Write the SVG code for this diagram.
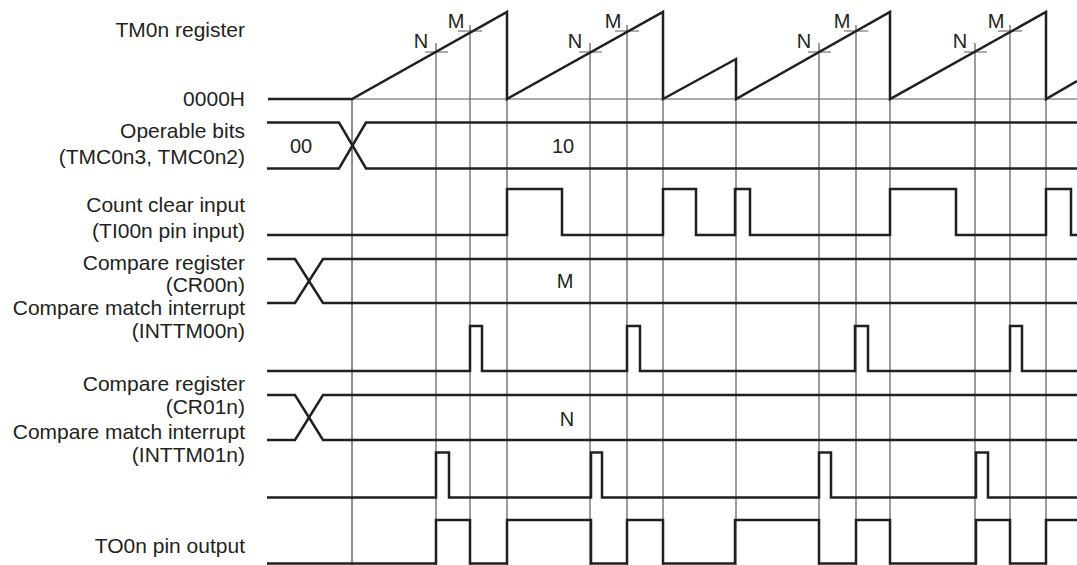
<svg xmlns="http://www.w3.org/2000/svg" width="1077" height="565" viewBox="0 0 1077 565">
<style>
.lbl{font-family:"Liberation Sans",Arial,sans-serif;font-size:21px;fill:#231f20;text-anchor:end}
.val{font-family:"Liberation Sans",Arial,sans-serif;font-size:20px;fill:#231f20;text-anchor:middle}
.sig{fill:none;stroke:#231f20;stroke-width:2.5;stroke-linejoin:miter}
.grid{stroke:#5a5a5a;stroke-width:1.2;fill:none}
.gridk{stroke:#231f20;stroke-width:1;fill:none}
.tick{stroke:#5a5a5a;stroke-width:1.2;fill:none}
</style>
<rect width="1077" height="565" fill="#fff"/>
<g id="connectors">
  <line class="grid" x1="328" y1="99" x2="1077" y2="99"/>
  <line class="gridk" x1="352" y1="99" x2="352" y2="565"/>
  <line class="grid" x1="507" y1="99" x2="507" y2="565"/>
  <line class="grid" x1="663" y1="99" x2="663" y2="565"/>
  <line class="grid" x1="736" y1="99" x2="736" y2="565"/>
  <line class="grid" x1="890" y1="99" x2="890" y2="565"/>
  <line class="grid" x1="1046" y1="99" x2="1046" y2="565"/>
  <path class="tick" d="M436,43 V565 M425,52 H448"/>
  <path class="tick" d="M590,43 V565 M579,52 H602"/>
  <path class="tick" d="M819,43 V565 M808,52 H831"/>
  <path class="tick" d="M975,43 V565 M964,52 H987"/>
  <path class="tick" d="M470,25 V565 M458,31 H482"/>
  <path class="tick" d="M627,25 V565 M615,31 H639"/>
  <path class="tick" d="M856,25 V565 M844,31 H868"/>
  <path class="tick" d="M1010,25 V565 M998,31 H1022"/>
</g>
<g id="tm0n">
  <text class="lbl" x="245" y="37">TM0n register</text>
  <text class="lbl" x="245" y="106">0000H</text>
  <path class="sig" d="M268,99 L352,99 L507,12 L507,99 L663,12 L663,99 L736,59 L736,99 L890,12 L890,99 L1046,12 L1046,99 L1077,81"/>
  <text class="val" x="421" y="48">N</text>
  <text class="val" x="456" y="28">M</text>
  <text class="val" x="575" y="48">N</text>
  <text class="val" x="613" y="28">M</text>
  <text class="val" x="804" y="48">N</text>
  <text class="val" x="842" y="28">M</text>
  <text class="val" x="960" y="48">N</text>
  <text class="val" x="996" y="28">M</text>
</g>
<g id="operable-bits">
  <text class="lbl" x="245" y="138">Operable bits</text>
  <text class="lbl" x="245" y="164">(TMC0n3, TMC0n2)</text>
  <path class="sig" d="M267,122.5 H339 L366,168.5 H1077"/>
  <path class="sig" d="M267,168.5 H339 L366,122.5 H1077"/>
  <text class="val" x="301" y="153">00</text>
  <text class="val" x="563" y="153">10</text>
</g>
<g id="count-clear">
  <text class="lbl" x="245" y="212">Count clear input</text>
  <text class="lbl" x="245" y="238">(TI00n pin input)</text>
  <path class="sig" d="M267,235 H507 V189 H562 V235 H663 V189 H696 V235 H735 V189 H750 V235 H890 V189 H956 V235 H1046 V189 H1071 V235 H1077"/>
</g>
<g id="cr00n">
  <text class="lbl" x="245" y="270">Compare register</text>
  <text class="lbl" x="245" y="292">(CR00n)</text>
  <path class="sig" d="M267,259 H295 L323,303 H1077"/>
  <path class="sig" d="M267,303 H295 L323,259 H1077"/>
  <text class="val" x="565" y="288">M</text>
</g>
<g id="inttm00n">
  <text class="lbl" x="245" y="315">Compare match interrupt</text>
  <text class="lbl" x="245" y="338">(INTTM00n)</text>
  <path class="sig" d="M267,371 H470 V326 H482 V371 H627 V326 H640 V371 H855 V326 H868 V371 H1010 V326 H1022 V371 H1077"/>
</g>
<g id="cr01n">
  <text class="lbl" x="245" y="391">Compare register</text>
  <text class="lbl" x="245" y="414">(CR01n)</text>
  <path class="sig" d="M267,395 H295 L323,440 H1077"/>
  <path class="sig" d="M267,440 H295 L323,395 H1077"/>
  <text class="val" x="567" y="426">N</text>
</g>
<g id="inttm01n">
  <text class="lbl" x="245" y="439">Compare match interrupt</text>
  <text class="lbl" x="245" y="462">(INTTM01n)</text>
  <path class="sig" d="M267,497.5 H436 V452.5 H449 V497.5 H591 V452.5 H602 V497.5 H819 V452.5 H831 V497.5 H976 V452.5 H988 V497.5 H1077"/>
</g>
<g id="to0n">
  <text class="lbl" x="245" y="553">TO0n pin output</text>
  <path class="sig" d="M267,563.5 H436 V520 H470 V563.5 H507 V520 H591 V563.5 H627 V520 H663 V563.5 H735 V520 H819 V563.5 H856 V520 H890 V563.5 H976 V520 H1010 V563.5 H1046 V520 H1077"/>
</g>
</svg>
